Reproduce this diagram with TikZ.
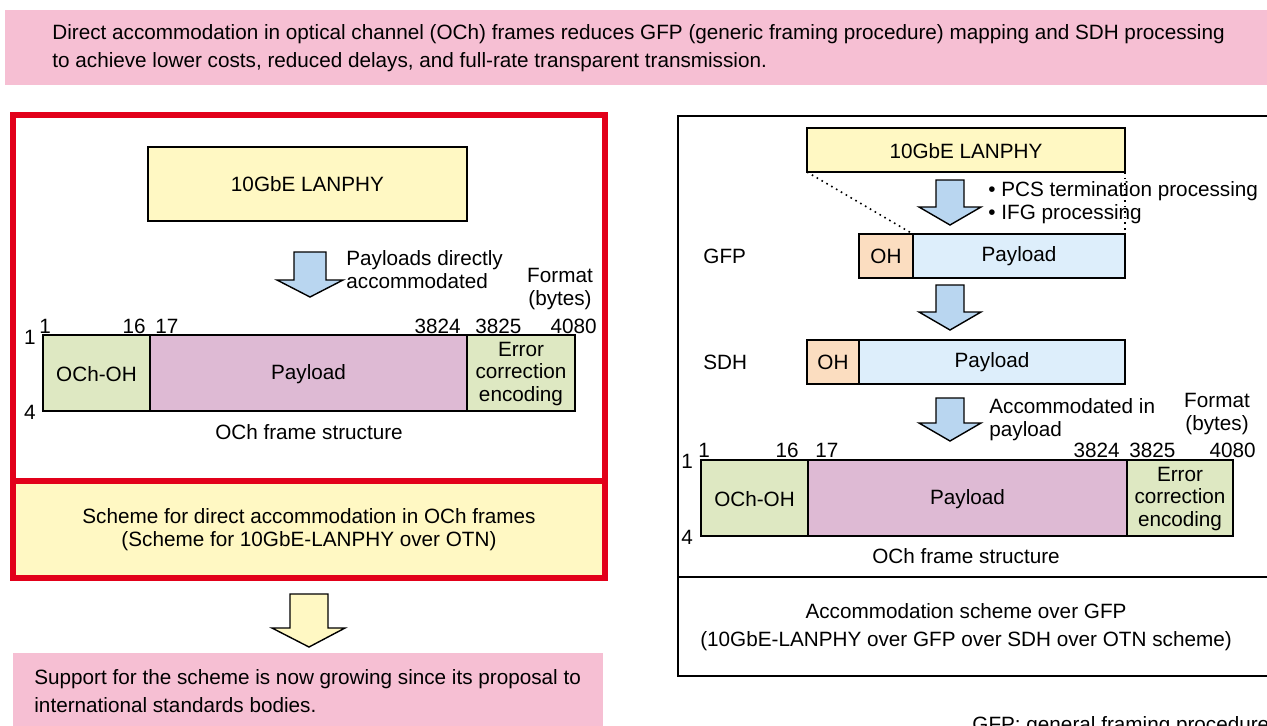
\documentclass[tikz,border=0pt]{standalone}
\usepackage{fontspec}
\setmainfont{Liberation Sans}
\usetikzlibrary{
  arrows.meta,
  calc,
  positioning,
}
\definecolor{notepink}{HTML}{F6BFD3}
\definecolor{schemered}{HTML}{E2001A}
\definecolor{lanyellow}{HTML}{FFF8C3}
\definecolor{ohgreen}{HTML}{DEE8C2}
\definecolor{payviolet}{HTML}{DEBAD4}
\definecolor{ohpeach}{HTML}{FBDDC0}
\definecolor{paysky}{HTML}{DDEEFB}
\definecolor{arrowblue}{HTML}{B9D6F0}
\tikzset{
  field/.style={draw, line width=0.8pt},
  blockarrow/.style={draw, line width=0.7pt, line join=miter},
  loose/.style={font=\fontsize{10.35pt}{14pt}\selectfont},
  num/.style={anchor=base},
}

\begin{document}
\begin{tikzpicture}[x=0.5pt, y=-0.5pt, inner sep=0pt, font=\fontsize{10.35pt}{11.25pt}\selectfont]
      \useasboundingbox (0, 0) rectangle (1267, 725);

      % banner on top
      \fill [notepink] (5, 10) rectangle (1267, 85);
      \node [loose, anchor=west, align=left] (banner) at (52, 48.5)
        {Direct accommodation in optical channel (OCh) frames reduces GFP (generic framing procedure) mapping and SDH processing\\to achieve lower costs, reduced delays, and full-rate transparent transmission.};

      % left: direct scheme
      \fill [lanyellow] (13, 481) rectangle (605, 578);
      \draw [schemered, line width=3pt] (13, 115) rectangle (605, 578);
      \draw [schemered, line width=3pt] (13, 481) -- (605, 481);

      \draw [field, fill=lanyellow] (148, 147) rectangle (467, 221);
      \node (lanleft) at (307.5, 184) {10GbE LANPHY};

      \draw [blockarrow, fill=arrowblue] (294, 252) -- (326, 252) -- (326, 280) -- (343, 280)
        -- (310, 297) -- (277, 280) -- (294, 280) -- cycle;
      \node [anchor=west, align=left] (direct) at (346, 269.5) {Payloads directly\\accommodated};
      \node [align=center] (fmtleft) at (560, 289) {Format\\(bytes)};

      \draw [field, fill=ohgreen] (43, 335) rectangle (150, 411);
      \draw [field, fill=payviolet] (150, 335) rectangle (467, 411);
      \draw [field, fill=ohgreen] (467, 335) rectangle (575, 411);
      \node (ohleft) at (96.5, 374) {OCh-OH};
      \node (payleft) at (308.5, 374) {Payload};
      \node [align=center] (fecleft) at (521, 374) {Error\\correction\\encoding};
      \foreach \x/\n/\a in {39/1/west, 146/16/east, 155/17/west, 461/3824/east, 475/3825/west, 597/4080/east}
      {
        \node [num, anchor=base \a] at (\x, 333) {\n};
      }
      \node (rowl1) at (30, 337) {1};
      \node (rowl4) at (30, 412) {4};
      \node (framel) at (309, 432) {OCh frame structure};

      \node [align=center] (schemel) at (309, 529.5) {Scheme for direct accommodation in OCh frames\\(Scheme for 10GbE-LANPHY over OTN)};

      \draw [blockarrow, fill=lanyellow] (290, 594) -- (328, 594) -- (328, 628) -- (345, 628)
        -- (309, 647) -- (272, 628) -- (290, 628) -- cycle;

      \fill [notepink] (13, 653) rectangle (603, 730);
      \node [loose, anchor=west, align=left] (support) at (34, 691)
        {Support for the scheme is now growing since its proposal to\\international standards bodies.};

      % right: scheme over GFP
      \draw [field] (678, 116) rectangle (1285, 676);
      \draw [field] (678, 577) -- (1285, 577);

      \draw [field, fill=lanyellow] (807, 128) rectangle (1125, 172);
      \node (lanright) at (966, 151) {10GbE LANPHY};
      \coordinate (lansw) at (807, 172);
      \coordinate (lanse) at (1125, 172);

      \foreach \t/\k/\p in {180/207/225, 285/312/330, 398/423/441}
      {
        \draw [blockarrow, fill=arrowblue] (936, \t) -- (964, \t) -- (964, \k) -- (981, \k)
          -- (950, \p) -- (919, \k) -- (936, \k) -- cycle;
      }
      \node [anchor=west, align=left] (proc) at (988, 202.5) {\textbullet{} PCS termination processing\\\textbullet{} IFG processing};

      \node [anchor=west] (gfp) at (703, 256) {GFP};
      \draw [field, fill=ohpeach] (859, 234) rectangle (913, 278);
      \draw [field, fill=paysky] (913, 234) rectangle (1125, 278);
      \node (gfpoh) at (886, 256) {OH};
      \node (gfppay) at (1019, 256) {Payload};
      \coordinate (gfpnw) at (913, 234);
      \coordinate (gfpne) at (1125, 234);
      \draw [dotted, line width=0.8pt] (lansw) -- (gfpnw);
      \draw [dotted, line width=0.8pt] (lanse) -- (gfpne);

      \node [anchor=west] (sdh) at (703, 362) {SDH};
      \draw [field, fill=ohpeach] (807, 340) rectangle (859, 384);
      \draw [field, fill=paysky] (859, 340) rectangle (1125, 384);
      \node (sdhoh) at (833, 362) {OH};
      \node (sdhpay) at (992, 362) {Payload};

      \node [anchor=west, align=left] (inpay) at (989, 419.5) {Accommodated in\\payload};
      \node [align=center] (fmtright) at (1217, 414) {Format\\(bytes)};

      \draw [field, fill=ohgreen] (701, 460) rectangle (808, 536);
      \draw [field, fill=payviolet] (808, 460) rectangle (1127, 536);
      \draw [field, fill=ohgreen] (1127, 460) rectangle (1233, 536);
      \node (ohright) at (754.5, 499) {OCh-OH};
      \node (payright) at (967.5, 499) {Payload};
      \node [align=center] (fecright) at (1180, 499) {Error\\correction\\encoding};
      \foreach \x/\n/\a in {698/1/west, 799/16/east, 815/17/west, 1120/3824/east, 1129/3825/west, 1256/4080/east}
      {
        \node [num, anchor=base \a] at (\x, 457) {\n};
      }
      \node (rowr1) at (687, 461) {1};
      \node (rowr4) at (687, 537) {4};
      \node (framer) at (966, 556) {OCh frame structure};

      \node [loose, align=center] (schemer) at (966, 627) {Accommodation scheme over GFP\\(10GbE-LANPHY over GFP over SDH over OTN scheme)};

      \node [anchor=base west] (gfpnote) at (972, 731) {GFP: general framing procedure};
    \end{tikzpicture}
\end{document}
